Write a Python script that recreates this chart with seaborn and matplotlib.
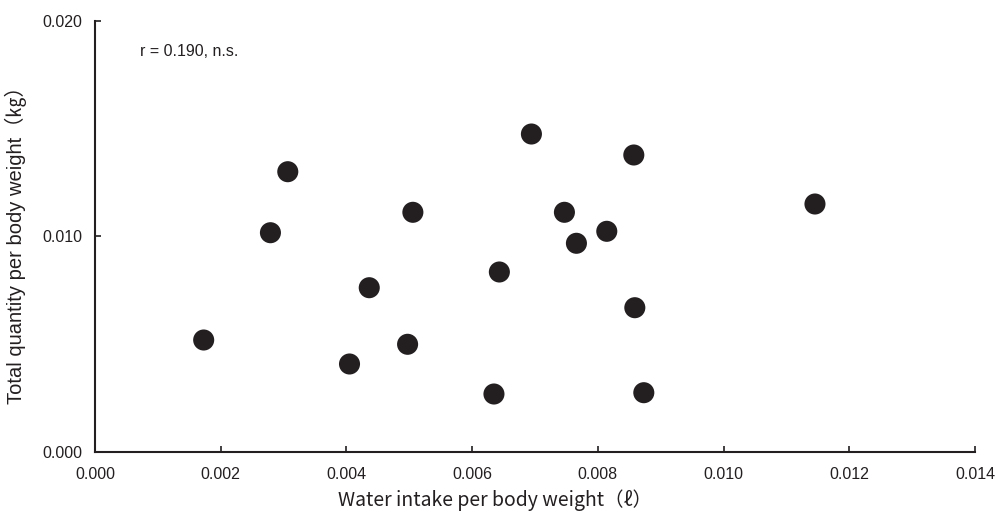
import matplotlib
matplotlib.use("Agg")
import matplotlib.pyplot as plt
import seaborn as sns
import pandas as pd

# values
water_intake = [0.001729, 0.002791, 0.003067, 0.004049, 0.004363, 0.004973,
                0.005057, 0.006347, 0.006433, 0.006943, 0.007468, 0.007659,
                0.008142, 0.008572, 0.008588, 0.008731, 0.011454]
total_quantity = [0.005183, 0.010162, 0.012993, 0.004070, 0.007610, 0.004984,
                  0.011109, 0.002677, 0.008339, 0.014742, 0.011109, 0.009671,
                  0.010227, 0.013768, 0.006682, 0.002738, 0.011494]
x_ticks = [0.000, 0.002, 0.004, 0.006, 0.008, 0.010, 0.012, 0.014]
y_ticks = [0.000, 0.010, 0.020]

df = pd.DataFrame({"water": water_intake, "total": total_quantity})

sns.set_style("white")
plt.rcParams['font.family'] = ['Liberation Sans', 'Noto Sans CJK JP', 'DejaVu Sans']

fig = plt.figure(figsize=(9.96, 5.12), dpi=100)
ax = fig.add_axes([95 / 996, 1 - 451.7 / 512, 880 / 996, 431 / 512])

sns.scatterplot(data=df, x="water", y="total", ax=ax, s=230,
                color="#231f20", edgecolor="none", linewidth=0, legend=False)

ax.set_xlim(0, 0.014)
ax.set_ylim(0, 0.020)
ax.set_xticks(x_ticks)
ax.set_yticks(y_ticks)
ax.set_xticklabels([f"{v:.3f}" for v in x_ticks])
ax.set_yticklabels([f"{v:.3f}" for v in y_ticks])

for side in ["top", "right"]:
    ax.spines[side].set_visible(False)
for side in ["left", "bottom"]:
    ax.spines[side].set_color("#231f20")
    ax.spines[side].set_linewidth(1.5)

ax.tick_params(axis="both", direction="in", length=4, width=1.2,
               color="#231f20", labelsize=11.5, labelcolor="#231f20",
               bottom=True, left=True)
ax.tick_params(axis="x", pad=11)
ax.tick_params(axis="y", pad=9)

cjk = ['Noto Sans CJK JP', 'DejaVu Sans']
ax.set_xlabel("Water intake per body weight（ℓ）", family=cjk, fontsize=14,
              color="#231f20")
ax.xaxis.set_label_coords(0.455, -0.088)
ax.set_ylabel("Total quantity per body weight（㎏）", fontsize=14.5,
              color="#231f20")
ax.yaxis.set_label_coords(-0.077, 0.49)

ax.text(0.051, 0.928, "r = 0.190, n.s.", transform=ax.transAxes, fontsize=11.5,
        color="#231f20", va="center", ha="left")

fig.savefig("out.png", dpi=100)
